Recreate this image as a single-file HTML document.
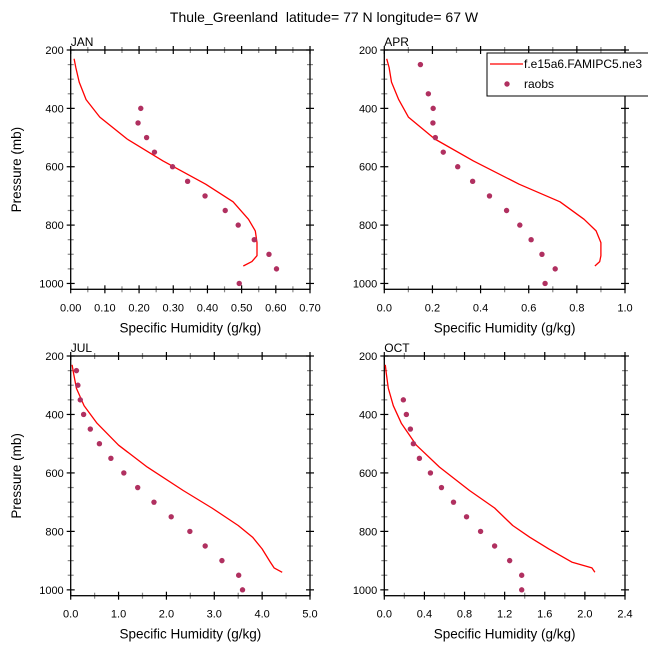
<!DOCTYPE html>
<html><head><meta charset="utf-8"><style>
body{margin:0;background:#fff}
svg{display:block;font-family:"Liberation Sans",Arial,sans-serif}
</style></head><body>
<svg id="c" width="648" height="648" viewBox="0 0 648 648">
<text x="324" y="22" text-anchor="middle" font-size="14">Thule_Greenland&#160; latitude= 77 N longitude= 67 W</text>
</svg>
<script>
const modelLevels=[230,260,310,370,430,505,580,660,720,780,820,860,905,925,940];
const obsLevels=[250,300,350,400,450,500,550,600,650,700,750,800,850,900,950,1000];
const janModel=[0.010,0.015,0.025,0.045,0.085,0.165,0.27,0.395,0.475,0.52,0.54,0.545,0.545,0.53,0.505];
const janObs=[null,null,null,0.205,0.197,0.222,0.245,0.298,0.342,0.393,0.452,0.490,0.537,0.580,0.602,0.493];
const aprModel=[0.01,0.02,0.03,0.06,0.10,0.21,0.37,0.56,0.73,0.83,0.88,0.90,0.90,0.895,0.875];
const aprObs=[0.15,null,0.183,0.203,0.202,0.212,0.245,0.305,0.367,0.437,0.508,0.563,0.61,0.655,0.71,0.668];
const julModel=[0.03,0.06,0.12,0.28,0.55,1.0,1.6,2.35,2.95,3.5,3.8,4.0,4.17,4.25,4.42];
const julObs=[0.12,0.15,0.2,0.27,0.41,0.6,0.84,1.11,1.4,1.74,2.1,2.49,2.81,3.16,3.51,3.59];
const octModel=[0.01,0.02,0.04,0.09,0.17,0.32,0.55,0.85,1.1,1.28,1.45,1.64,1.87,2.07,2.1];
const octObs=[null,null,0.19,0.22,0.26,0.29,0.35,0.46,0.57,0.69,0.82,0.96,1.1,1.25,1.37,1.37];
const yTicks=[200,400,600,800,1000];
const panelNames=['JAN','APR','JUL','OCT'];
const xTickLabels=[["0.00","0.10","0.20","0.30","0.40","0.50","0.60","0.70"],["0.0","0.2","0.4","0.6","0.8","1.0"],["0.0","1.0","2.0","3.0","4.0","5.0"],["0.0","0.4","0.8","1.2","1.6","2.0","2.4"]];
const xMax=[0.7,1.0,5.0,2.4];
const models=[janModel,aprModel,julModel,octModel];
const obs=[janObs,aprObs,julObs,octObs];
const boxes=[[70.7,310,50,289.3],[384.3,625,50,289.3],[70.7,310,356,595.7],[384.3,625,356,595.7]];
const NS='http://www.w3.org/2000/svg';
const svg=document.getElementById('c');
function mk(t,a,p){const e=document.createElementNS(NS,t);for(const k in a)e.setAttribute(k,a[k]);(p||svg).appendChild(e);return e;}
boxes.forEach((b,i)=>{
 const [x0,x1,y0,y1]=b;
 const g=mk('g',{});
 
 
 const py=p=>y0+(p-200)*(y1-y0)/820;
 const px=v=>x0+v*(x1-x0)/xMax[i];
 for(let p=250;p<=1000;p+=50){if(p%200===0)continue;const y=py(p);
  mk('line',{x1:x0-3,x2:x0+3,y1:y,y2:y,stroke:'#888','stroke-width':1.2},g);
  mk('line',{x1:x1-3,x2:x1+3,y1:y,y2:y,stroke:'#888','stroke-width':1.2},g);}
 yTicks.forEach(p=>{const y=py(p);
  mk('line',{x1:x0-4,x2:x0+4,y1:y,y2:y,stroke:'#000','stroke-width':1.2},g);
  mk('line',{x1:x1-4,x2:x1+4,y1:y,y2:y,stroke:'#000','stroke-width':1.2},g);
  const t=mk('text',{x:x0-7,y:y+4,'text-anchor':'end','font-size':11},g);t.textContent=p;
  
  });
 const labs=xTickLabels[i];const n=labs.length-1;
 for(let k=0;k<=n*2;k++){const x=x0+k*(x1-x0)/(n*2);const maj=k%2===0;
  const l=maj?4:3,c=maj?'#000':'#888';
  mk('line',{x1:x,x2:x,y1:y1-l,y2:y1+l,stroke:c,'stroke-width':1.2},g);
  mk('line',{x1:x,x2:x,y1:y0-l,y2:y0+l,stroke:c,'stroke-width':1.2},g);}
 labs.forEach((s,k)=>{const t=mk('text',{x:x0+k*(x1-x0)/n,y:y1+22,'text-anchor':'middle','font-size':11},g);t.textContent=s;
  
  });
 mk('rect',{x:x0,y:y0,width:x1-x0,height:y1-y0,fill:'none',stroke:'#000','stroke-width':1.3},g);
 const pt=mk('text',{x:x0,y:y0-4,'font-size':12},g);pt.textContent=panelNames[i];
 
 
 const xt=mk('text',{x:(x0+x1)/2,y:y1+43,'text-anchor':'middle','font-size':13.5},g);xt.textContent='Specific Humidity (g/kg)';
 
 
 if(i%2===0){const yt=mk('text',{x:0,y:0,'text-anchor':'middle','font-size':13.5,transform:`translate(21,${(y0+y1)/2}) rotate(-90)`},g);yt.textContent='Pressure (mb)';
  
  }
 const d=models[i].map((v,k)=>(k?'L':'M')+px(v).toFixed(1)+' '+py(modelLevels[k]).toFixed(1)).join(' ');
 const ln=mk('path',{d:d,fill:'none',stroke:'#f00','stroke-width':1.3,'stroke-linejoin':'round'},g);
 
 
 obs[i].forEach((v,k)=>{if(v==null)return;const c=mk('circle',{cx:px(v),cy:py(obsLevels[k]),r:2.7,fill:'#b03060'},g);
  
  });
});
const lg=mk('g',{});


mk('rect',{x:487,y:53,width:170,height:43,fill:'#fff',stroke:'#000','stroke-width':1},lg);
mk('line',{x1:490,x2:523,y1:64,y2:64,stroke:'#f00','stroke-width':1.3},lg);
const lt=mk('text',{x:524,y:68,'font-size':12},lg);lt.textContent='f.e15a6.FAMIPC5.ne3';


mk('circle',{cx:507,cy:84,r:2.7,fill:'#b03060'},lg);
const lt2=mk('text',{x:524,y:88,'font-size':12},lg);lt2.textContent='raobs';


</script>
</body></html>
